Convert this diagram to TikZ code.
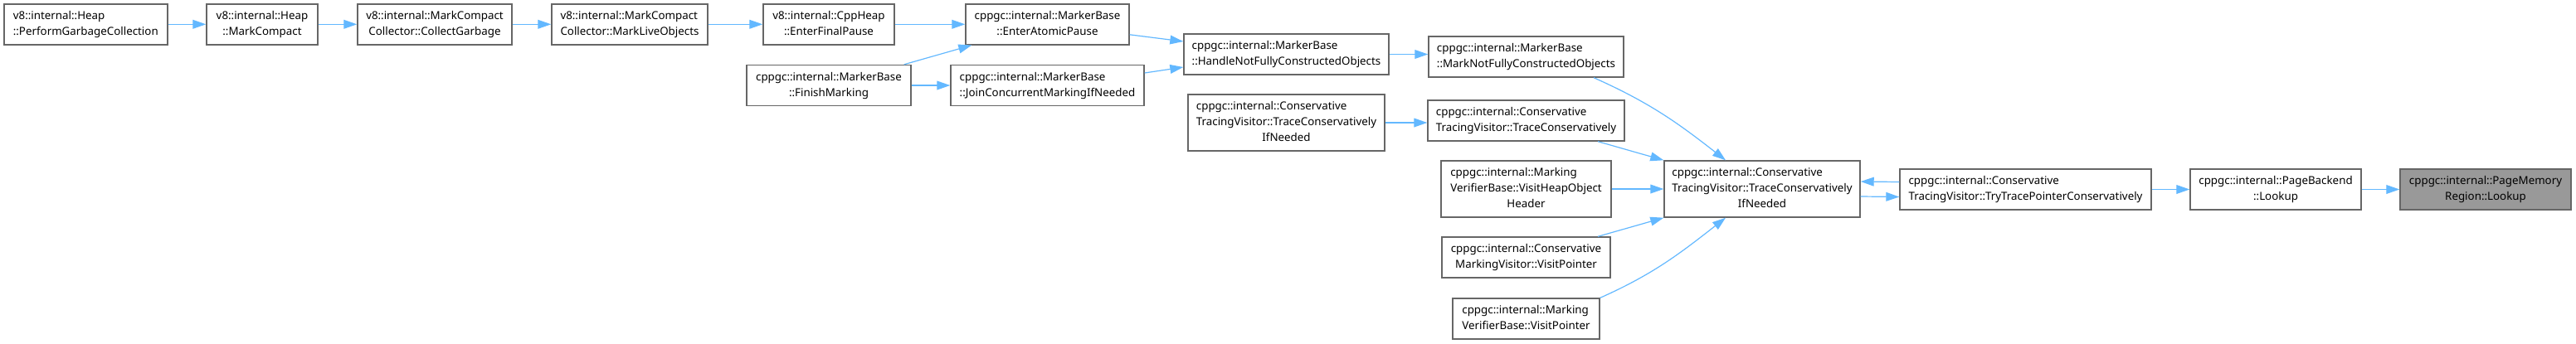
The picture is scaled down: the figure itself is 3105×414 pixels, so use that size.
\documentclass[tikz,border=0pt]{standalone}
\usepackage{fontspec}
\setmainfont{Noto Sans}
\usepackage{xcolor}
\usepackage{tikz}
\usetikzlibrary{arrows.meta}
\definecolor{edgeColor}{HTML}{63B8FF}
\definecolor{borderColor}{HTML}{666666}
\definecolor{focusColor}{HTML}{999999}
\newcommand{\fnlabel}[2]{\begin{tabular}{@{}l@{}}#1\\\multicolumn{1}{@{}c@{}}{#2}\end{tabular}}
\tikzset{
    fnbox/.style={draw=borderColor, line width=0.7pt, fill=white, inner sep=0pt},
    boxsize/.style 2 args={minimum width=#1*0.5pt, minimum height=#2*0.5pt},
    calledge/.style={-{Triangle[length=8pt,width=5.4pt]}, draw=edgeColor, line width=0.6pt}
}

\begin{document}
\begin{tikzpicture}[x=0.5pt, y=0.5pt, font=\fontsize{6.67pt}{9.5pt}\selectfont]
    \useasboundingbox (0,0) rectangle (3105,-414);
    \node[fnbox, boxsize={197}{49}] (perform) at (103.3,-29.3) {\fnlabel{v8::internal::Heap}{::PerformGarbageCollection}};
    \node[fnbox, boxsize={134}{49}] (markCompact) at (316,-29.3) {\fnlabel{v8::internal::Heap}{::MarkCompact}};
    \node[fnbox, boxsize={186}{49}] (collectGarbage) at (524,-29.3) {\fnlabel{v8::internal::MarkCompact}{Collector::CollectGarbage}};
    \node[fnbox, boxsize={188}{49}] (markLive) at (759,-29.3) {\fnlabel{v8::internal::MarkCompact}{Collector::MarkLiveObjects}};
    \node[fnbox, boxsize={158}{49}] (finalPause) at (999,-29.3) {\fnlabel{v8::internal::CppHeap}{::EnterFinalPause}};
    \node[fnbox, boxsize={197}{49}] (atomicPause) at (1262.5,-29.3) {\fnlabel{cppgc::internal::MarkerBase}{::EnterAtomicPause}};
    \node[fnbox, boxsize={198}{49}] (finishMarking) at (999,-103) {\fnlabel{cppgc::internal::MarkerBase}{::FinishMarking}};
    \node[fnbox, boxsize={233}{49}] (joinMarking) at (1262.5,-103) {\fnlabel{cppgc::internal::MarkerBase}{::JoinConcurrentMarkingIfNeeded}};
    \node[fnbox, boxsize={247}{49}] (handleObjects) at (1550.5,-65.5) {\fnlabel{cppgc::internal::MarkerBase}{::HandleNotFullyConstructedObjects}};
    \node[fnbox, boxsize={235}{49}] (markObjects) at (1839.5,-68.5) {\fnlabel{cppgc::internal::MarkerBase}{::MarkNotFullyConstructedObjects}};
    \node[fnbox, boxsize={237}{68}] (traceIfNeededLeft) at (1550.5,-148) {\fnlabel{cppgc::internal::Conservative\\TracingVisitor::TraceConservatively}{IfNeeded}};
    \node[fnbox, boxsize={237}{49}] (traceCons) at (1839.5,-145.5) {\fnlabel{cppgc::internal::Conservative}{TracingVisitor::TraceConservatively}};
    \node[fnbox, boxsize={205}{68}] (visitHeader) at (1839.5,-228) {\fnlabel{cppgc::internal::Marking\\VerifierBase::VisitHeapObject}{Header}};
    \node[fnbox, boxsize={203}{49}] (visitPtrCons) at (1839.5,-310.5) {\fnlabel{cppgc::internal::Conservative}{MarkingVisitor::VisitPointer}};
    \node[fnbox, boxsize={177}{49}] (visitPtrVerif) at (1839.5,-384.5) {\fnlabel{cppgc::internal::Marking}{VerifierBase::VisitPointer}};
    \node[fnbox, boxsize={236}{68}] (traceIfNeeded) at (2124,-228) {\fnlabel{cppgc::internal::Conservative\\TracingVisitor::TraceConservatively}{IfNeeded}};
    \node[fnbox, boxsize={303}{49}] (tryTrace) at (2441.5,-228.5) {\fnlabel{cppgc::internal::Conservative}{TracingVisitor::TryTracePointerConservatively}};
    \node[fnbox, boxsize={206}{49}] (backendLookup) at (2743,-228.5) {\fnlabel{cppgc::internal::PageBackend}{::Lookup}};
    \node[fnbox, boxsize={206}{49}, fill=focusColor] (regionLookup) at (2996,-228.5) {\fnlabel{cppgc::internal::PageMemory}{Region::Lookup}};

    \draw[calledge] (perform) -- (markCompact);
    \draw[calledge] (markCompact) -- (collectGarbage);
    \draw[calledge] (collectGarbage) -- (markLive);
    \draw[calledge] (markLive) -- (finalPause);
    \draw[calledge] (finalPause) -- (atomicPause);
    \draw[calledge] ([xshift=-4.5pt]finishMarking.north east) -- ([xshift=4pt]atomicPause.south west);
    \draw[calledge] (finishMarking) -- (joinMarking);
    \draw[calledge] ([yshift=-6.25pt]atomicPause.east) -- ([yshift=7.75pt]handleObjects.west);
    \draw[calledge] ([yshift=7.5pt]joinMarking.east) -- ([yshift=-7.75pt]handleObjects.west);
    \draw[calledge] (handleObjects.east) -- (handleObjects.east -| markObjects.west);
    \draw[calledge] (traceIfNeededLeft.east) -- (traceIfNeededLeft.east -| traceCons.west);
    \draw[calledge] ([xshift=40.75pt]markObjects.south) to[out=-24, in=142] ([xshift=-22pt]traceIfNeeded.north);
    \draw[calledge] ([xshift=43.25pt]traceCons.south) -- (traceIfNeeded.north west);
    \draw[calledge] (visitHeader) -- (traceIfNeeded);
    \draw[calledge] ([xshift=43.25pt]visitPtrCons.north) -- (traceIfNeeded.south west);
    \draw[calledge] (visitPtrVerif.north east) to[out=24, in=-142] ([xshift=-22pt]traceIfNeeded.south);
    \draw[calledge] ([yshift=4.5pt]tryTrace.west) -- ([yshift=4.5pt]traceIfNeeded.east);
    \draw[calledge] ([yshift=-4.5pt]traceIfNeeded.east) -- ([yshift=-4.5pt]tryTrace.west);
    \draw[calledge] (tryTrace) -- (backendLookup);
    \draw[calledge] (backendLookup) -- (regionLookup);
\end{tikzpicture}
\end{document}
